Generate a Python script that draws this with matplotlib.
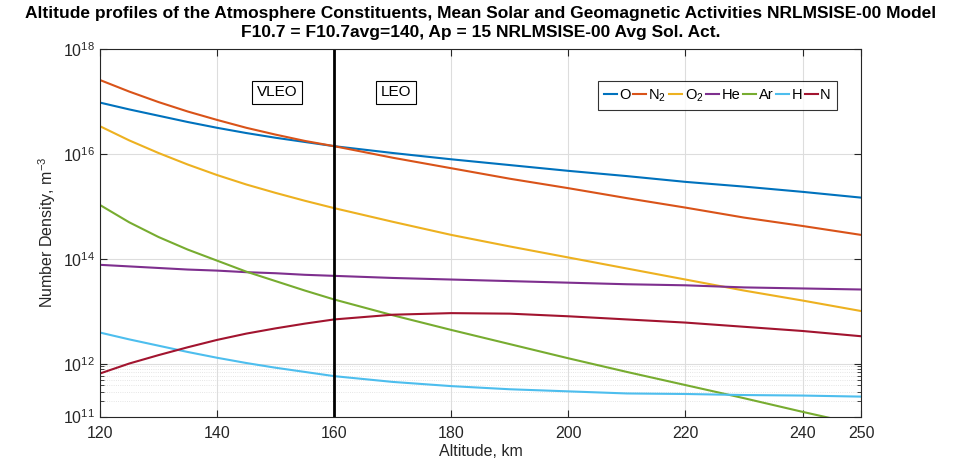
import matplotlib
matplotlib.use("Agg")
import matplotlib.pyplot as plt
from matplotlib.ticker import FixedLocator, NullFormatter

plt.rcParams['font.family'] = ['Liberation Sans', 'DejaVu Sans']
plt.rcParams['mathtext.fontset'] = 'custom'
plt.rcParams['mathtext.rm'] = 'Liberation Sans'

# altitude, km
alt = [120, 125, 130, 135, 140, 145, 150, 155, 160, 170, 180, 190, 200, 210, 220, 230, 240, 250]

# log10 of number density (m^-3)
log_O = [16.98, 16.85, 16.73, 16.61, 16.50, 16.40, 16.31, 16.23, 16.15, 16.02, 15.90, 15.79, 15.68, 15.58, 15.47, 15.38, 15.28, 15.17]
log_N2 = [17.41, 17.19, 16.99, 16.81, 16.65, 16.50, 16.37, 16.25, 16.15, 15.93, 15.73, 15.53, 15.35, 15.16, 14.98, 14.79, 14.63, 14.46]
log_O2 = [16.53, 16.26, 16.02, 15.80, 15.60, 15.42, 15.26, 15.11, 14.97, 14.71, 14.46, 14.24, 14.03, 13.82, 13.61, 13.40, 13.21, 13.01]
log_He = [13.89, 13.86, 13.83, 13.80, 13.78, 13.75, 13.73, 13.70, 13.68, 13.64, 13.61, 13.58, 13.55, 13.52, 13.50, 13.46, 13.44, 13.42]
log_Ar = [15.03, 14.70, 14.42, 14.18, 13.97, 13.76, 13.58, 13.40, 13.23, 12.93, 12.65, 12.38, 12.11, 11.85, 11.60, 11.35, 11.09, 10.84]
log_H = [12.60, 12.47, 12.35, 12.23, 12.12, 12.02, 11.93, 11.85, 11.77, 11.66, 11.58, 11.52, 11.48, 11.44, 11.43, 11.41, 11.40, 11.38]
log_N = [11.82, 12.01, 12.17, 12.32, 12.46, 12.58, 12.68, 12.77, 12.85, 12.94, 12.97, 12.96, 12.91, 12.85, 12.79, 12.71, 12.63, 12.53]

species = ['O', 'N$_2$', 'O$_2$', 'He', 'Ar', 'H', 'N']
series = [log_O, log_N2, log_O2, log_He, log_Ar, log_H, log_N]
colors = ['#0072BD', '#D95319', '#EDB120', '#7E2F8E', '#77AC30', '#4DBEEE', '#A2142F']

xticks = [120, 140, 160, 180, 200, 220, 240, 250]

fig = plt.figure(figsize=(9.61, 4.67), dpi=100)
ax = fig.add_axes([0.104, 0.108, 0.792, 0.787])

for name, vals, c in zip(species, series, colors):
    ax.plot(alt, [10 ** v for v in vals], color=c, lw=1.5, label=name)

ax.axvline(160, color='black', lw=2)

ax.set_yscale('log')
ax.set_xlim(120, 250)
ax.set_ylim(1e11, 1e18)
ax.set_yticks([1e11, 1e12, 1e14, 1e16, 1e18])
ax.yaxis.set_minor_locator(FixedLocator([k * 1e11 for k in range(2, 10)]))
ax.yaxis.set_minor_formatter(NullFormatter())
ax.set_xticks(xticks)

ax.grid(True, which='major', color='#dddddd', lw=0.8)
ax.grid(True, which='minor', axis='y', color='#dddddd', lw=0.6, ls=':')
ax.set_axisbelow(True)

ax.tick_params(which='both', direction='in', top=True, right=True, labelsize=11.5,
               color='#262626', labelcolor='#262626')
ax.tick_params(axis='x', pad=7)
ax.tick_params(which='major', length=5)
ax.tick_params(which='minor', length=3)
for s in ax.spines.values():
    s.set_color('#262626')
    s.set_linewidth(0.8)

ax.set_xlabel('Altitude, km', fontsize=11.5, color='#262626', labelpad=2)
ax.set_ylabel('Number Density, m$^{-3}$', fontsize=11.5, color='#262626')
ax.set_title('Altitude profiles of the Atmosphere Constituents, Mean Solar and Geomagnetic Activities NRLMSISE-00 Model\n'
             'F10.7 = F10.7avg=140, Ap = 15 NRLMSISE-00 Avg Sol. Act.',
             fontsize=12.5, fontweight='bold', pad=9, linespacing=1.3)

box = dict(boxstyle='square,pad=0.3', fc='white', ec='black', lw=0.8)
ax.text(150.2, 10 ** 17.18, 'VLEO', ha='center', va='center', fontsize=11, bbox=box)
ax.text(170.6, 10 ** 17.18, 'LEO', ha='center', va='center', fontsize=11, bbox=box)

leg = ax.legend(loc='upper right', bbox_to_anchor=(0.968, 0.912), ncol=7, fontsize=10.5,
                handlelength=0.9, handletextpad=0.15, columnspacing=0.2,
                frameon=True, fancybox=False, edgecolor='black', borderpad=0.4,
                borderaxespad=0)
leg.get_frame().set_linewidth(0.8)

fig.savefig('out.png', dpi=100)
